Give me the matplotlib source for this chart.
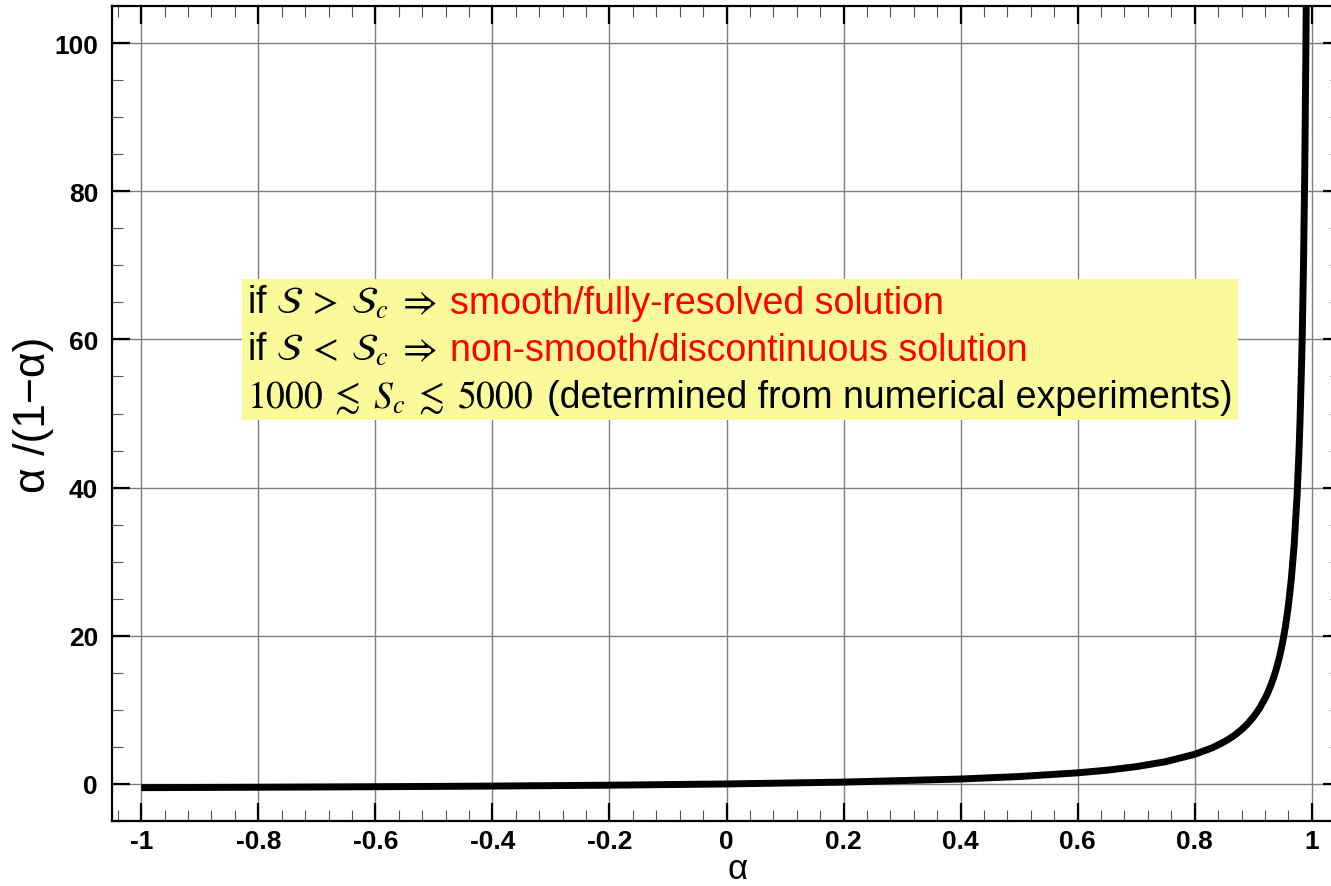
import matplotlib
matplotlib.use("Agg")
import matplotlib.pyplot as plt
from matplotlib.ticker import MultipleLocator
from matplotlib.offsetbox import TextArea, HPacker, VPacker, AnchoredOffsetbox

plt.rcParams['font.family'] = ['Liberation Sans', 'DejaVu Sans']
plt.rcParams['mathtext.fontset'] = 'stix'

# curve values
alpha = [-1.0, -0.8, -0.6, -0.4, -0.2, 0.0, 0.2, 0.4, 0.5, 0.6, 0.65, 0.7, 0.75,
         0.8, 0.83, 0.85, 0.86, 0.87, 0.88, 0.89, 0.9, 0.91, 0.92, 0.925, 0.93,
         0.935, 0.94, 0.945, 0.95, 0.955, 0.96, 0.965, 0.97, 0.975, 0.978, 0.98,
         0.983, 0.984, 0.986, 0.988, 0.99, 0.991]
ratio = [-0.5, -0.444, -0.375, -0.286, -0.167, 0.0, 0.25, 0.667, 1.0, 1.5, 1.857, 2.333, 3.0,
         4.0, 4.88, 5.67, 6.14, 6.69, 7.33, 8.09, 9.0, 10.11, 11.5, 12.33, 13.29,
         14.38, 15.67, 17.18, 19.0, 21.22, 24.0, 27.57, 32.33, 39.0, 44.45, 49.0,
         57.82, 61.5, 70.43, 82.33, 99.0, 110.1]

x_ticks = [-1, -0.8, -0.6, -0.4, -0.2, 0, 0.2, 0.4, 0.6, 0.8, 1]
x_ticklabels = ['-1', '-0.8', '-0.6', '-0.4', '-0.2', '0', '0.2', '0.4', '0.6', '0.8', '1']
y_ticks = [0, 20, 40, 60, 80, 100]
y_ticklabels = ['0', '20', '40', '60', '80', '100']

note_lines = [
    [("if $\\mathcal{S}\\;>\\;\\mathcal{S}_c\\;\\Rightarrow$", 'black'),
     ("smooth/fully-resolved solution", 'red')],
    [("if $\\mathcal{S}\\;<\\;\\mathcal{S}_c\\;\\Rightarrow$", 'black'),
     ("non-smooth/discontinuous solution", 'red')],
    [("$1000\\;\\lesssim\\;S_c\\;\\lesssim\\;5000$", 'black'),
     ("(determined from numerical experiments)", 'black')],
]

fig = plt.figure(figsize=(13.31, 8.87), dpi=100)
ax = fig.add_axes([112/1331, 1-822/887, (1341-112)/1331, (822-7)/887])

ax.plot(alpha, ratio, color='black', lw=5, solid_capstyle='butt', zorder=3)

ax.set_xlim(-1.05, 1.05)
ax.set_ylim(-5, 105)
ax.set_xticks(x_ticks)
ax.set_xticklabels(x_ticklabels)
ax.set_yticks(y_ticks)
ax.set_yticklabels(y_ticklabels)
ax.xaxis.set_minor_locator(MultipleLocator(0.04))
ax.yaxis.set_minor_locator(MultipleLocator(5))

ax.grid(True, which='major', color='#7f7f7f', lw=1.0)
ax.set_axisbelow(True)

ax.tick_params(which='both', direction='in', top=True, right=True)
ax.tick_params(which='major', length=13, width=1.6, labelsize=19)
ax.tick_params(which='minor', length=8, width=0.8, color='#555555')
ax.tick_params(axis='x', which='major', pad=5.5)
ax.tick_params(axis='y', which='major', pad=10)
for lab in ax.get_xticklabels() + ax.get_yticklabels():
    lab.set_fontweight('bold')
for sp in ax.spines.values():
    sp.set_linewidth(1.6)

fig.text(738/1331, 1-879/887, 'α', fontsize=25, ha='center', va='baseline')
fig.text(33/1331, 1-415/887, 'α /(1−α)', fontsize=32, ha='center', va='center', rotation=90)

rows = []
for line in note_lines:
    parts = [TextArea(t, textprops=dict(color=c, fontsize=27)) for t, c in line]
    rows.append(HPacker(children=parts, align='baseline', pad=0, sep=10))
vbox = VPacker(children=rows, align='left', pad=0, sep=7)
anch = AnchoredOffsetbox(loc='upper left', child=vbox, pad=0.35, borderpad=0,
                         frameon=True, bbox_to_anchor=(242/1331, 1-280/887),
                         bbox_transform=fig.transFigure)
anch.patch.set_facecolor('#FAFA9A')
anch.patch.set_edgecolor('none')
anch.patch.set_boxstyle('square', pad=0)
anch.set_zorder(5)
ax.add_artist(anch)

fig.savefig('out.png', dpi=100)
